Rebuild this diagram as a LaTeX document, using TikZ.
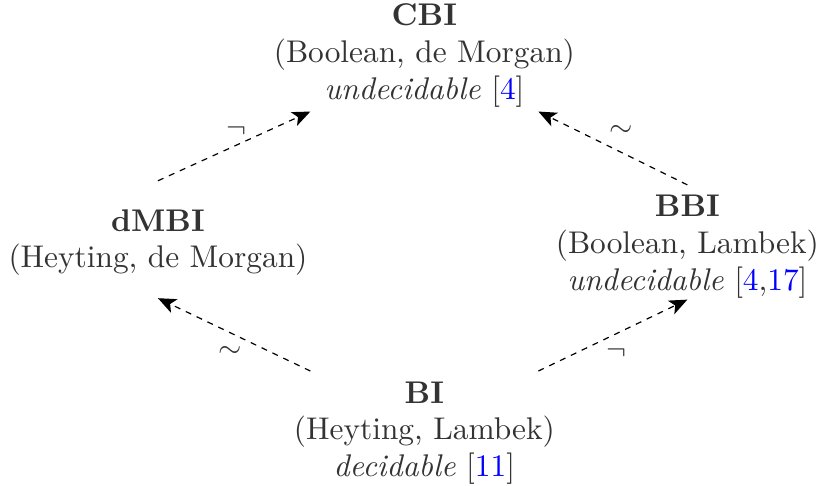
\documentclass[tikz,border=0pt]{standalone}
\usepackage{amsmath}
\usepackage{amssymb}
\usepackage{tikz}
\usetikzlibrary{arrows.meta}
\usepackage{color}

\begin{document}
\begin{tikzpicture}[
	logic/.style={align=center, text=black!80, font=\fontsize{10.45}{12.2}\selectfont},
	arr/.style={-{Stealth[length=6pt, width=5pt, inset=1.5pt]}, dash pattern=on 2pt off 2pt},
	op/.style={text=black!80, font=\fontsize{10.45}{12.2}\selectfont}
	]
				\useasboundingbox (0,0) rectangle (9.58,5.69);
				\node[logic] (CBI) at (4.97,5.04) {\textbf{CBI}\\(Boolean, de Morgan)\\\emph{undecidable} [{\color{blue}4}]};
				\node[logic] (dMBI) at (1.85,2.85) {\textbf{dMBI}\\(Heyting, de Morgan)};
				\node[logic] (BBI) at (8.05,2.80) {\textbf{BBI}\\(Boolean, Lambek)\\\emph{undecidable} [{\color{blue}4},{\color{blue}17}]};
				\node[logic] (BI) at (4.97,0.62) {\textbf{BI}\\(Heyting, Lambek)\\\emph{decidable} [{\color{blue}11}]};
				\draw[arr] ([yshift=6pt]dMBI.north) -- ([xshift=-38pt, yshift=2pt]CBI.south) node[op, midway, above=-0.5pt, xshift=0.7pt] {$\neg$};
				\draw[arr] (BBI.north) -- ([xshift=38pt, yshift=2pt]CBI.south) node[op, midway, above=0.3pt, xshift=2.7pt] {$\sim$};
				\draw[arr] ([xshift=-38pt]BI.north) -- ([yshift=-4pt]dMBI.south) node[op, midway, below=0.3pt, xshift=-1.3pt] {$\sim$};
				\draw[arr] ([xshift=38pt]BI.north) -- ([yshift=3pt]BBI.south) node[op, midway, below=0.3pt, xshift=1.3pt] {$\neg$};
			\end{tikzpicture}
\end{document}
